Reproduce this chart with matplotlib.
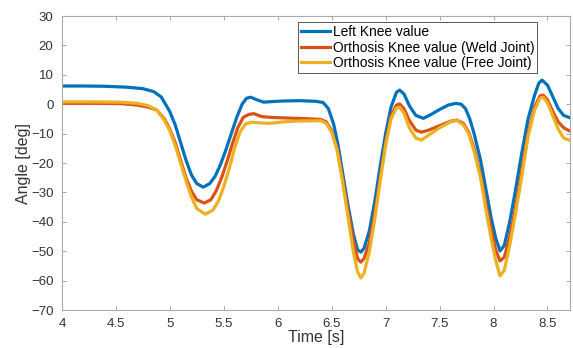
import matplotlib
matplotlib.use('Agg')
import matplotlib.pyplot as plt
import numpy as np

#------------------------------------------------------------------------------
# DATA

# Left knee (blue)
t_left = [4.00, 4.20, 4.40, 4.60, 4.75, 4.85, 4.92, 5.00, 5.05, 5.10, 5.15, 5.20,
          5.25, 5.31, 5.37, 5.42, 5.47, 5.52, 5.57, 5.62, 5.67, 5.71, 5.75, 5.80,
          5.87, 5.95, 6.05, 6.20, 6.35, 6.42, 6.47, 6.52, 6.56, 6.60, 6.65, 6.70,
          6.74, 6.77, 6.80, 6.85, 6.90, 6.95, 7.00, 7.05, 7.10, 7.13, 7.17, 7.22,
          7.28, 7.35, 7.42, 7.50, 7.58, 7.65, 7.70, 7.74, 7.78, 7.82, 7.88, 7.93,
          7.98, 8.02, 8.06, 8.10, 8.15, 8.20, 8.26, 8.32, 8.38, 8.42, 8.45, 8.50,
          8.55, 8.60, 8.65, 8.70]
left_knee = [6.2, 6.2, 6.1, 5.8, 5.3, 4.3, 2.5, -2.5, -7.0, -13.0, -19.0, -24.0,
             -27.0, -28.2, -27.0, -24.5, -20.5, -15.5, -10.0, -4.5, 0.0, 2.0, 2.4, 1.6,
             0.7, 0.9, 1.1, 1.2, 1.0, 0.6, -1.5, -7.0, -14.0, -23.0, -34.0, -44.0,
             -49.5, -50.3, -49.0, -43.0, -33.0, -21.0, -10.0, -1.0, 4.0, 4.8, 3.5, -0.5,
             -3.8, -4.8, -3.5, -1.8, -0.3, 0.3, 0.0, -1.5, -5.0, -10.0, -19.0, -29.0,
             -39.0, -45.5, -49.9, -48.0, -40.0, -30.0, -17.0, -5.0, 3.0, 7.2, 8.2, 6.5,
             2.5, -1.5, -3.8, -4.5]

# Orthosis knee, weld joint (red)
t_weld = [4.00, 4.30, 4.55, 4.70, 4.80, 4.88, 4.95, 5.00, 5.05, 5.10, 5.15, 5.20,
          5.25, 5.32, 5.38, 5.43, 5.48, 5.53, 5.58, 5.63, 5.68, 5.73, 5.78, 5.85,
          5.95, 6.10, 6.25, 6.40, 6.45, 6.50, 6.55, 6.60, 6.65, 6.70, 6.74, 6.77,
          6.80, 6.85, 6.90, 6.95, 7.00, 7.05, 7.10, 7.13, 7.17, 7.22, 7.28, 7.33,
          7.40, 7.50, 7.60, 7.66, 7.72, 7.77, 7.82, 7.88, 7.93, 7.98, 8.02, 8.06,
          8.10, 8.15, 8.20, 8.26, 8.32, 8.38, 8.43, 8.46, 8.50, 8.55, 8.60, 8.65,
          8.70]
weld_joint = [0.3, 0.3, 0.2, -0.3, -1.0, -2.0, -5.0, -8.5, -13.0, -19.0, -25.0, -29.5,
              -32.5, -33.6, -32.5, -29.5, -25.0, -19.5, -13.5, -8.0, -4.5, -3.5, -3.2, -4.2,
              -4.5, -4.7, -4.9, -5.2, -6.0, -9.0, -15.0, -25.0, -36.0, -46.0, -52.5, -53.7,
              -52.5, -47.0, -37.0, -25.0, -13.0, -4.0, -0.3, 0.1, -1.5, -5.5, -8.8, -9.5,
              -8.8, -7.3, -5.8, -5.4, -6.5, -9.5, -15.0, -24.0, -34.0, -43.0, -49.5, -53.3,
              -52.0, -45.0, -36.0, -23.0, -10.0, -1.0, 2.8, 3.1, 1.5, -2.5, -6.0, -8.0,
              -9.0]

# Orthosis knee, free joint (yellow)
t_free = [4.00, 4.30, 4.55, 4.70, 4.80, 4.88, 4.95, 5.00, 5.05, 5.10, 5.15, 5.20,
          5.25, 5.33, 5.40, 5.45, 5.50, 5.55, 5.60, 5.65, 5.70, 5.75, 5.82, 5.92,
          6.05, 6.20, 6.40, 6.45, 6.50, 6.55, 6.60, 6.65, 6.70, 6.74, 6.77, 6.80,
          6.85, 6.90, 6.95, 7.00, 7.05, 7.10, 7.13, 7.17, 7.22, 7.28, 7.33, 7.40,
          7.50, 7.60, 7.66, 7.72, 7.77, 7.82, 7.88, 7.93, 7.98, 8.02, 8.06, 8.10,
          8.15, 8.20, 8.26, 8.32, 8.38, 8.43, 8.46, 8.50, 8.55, 8.60, 8.65, 8.70]
free_joint = [0.8, 0.8, 0.7, 0.3, -0.5, -2.0, -5.5, -9.0, -14.0, -20.0, -26.0, -31.5,
              -35.5, -37.4, -36.0, -33.0, -28.0, -22.0, -15.0, -9.5, -6.8, -6.1, -6.3, -6.5,
              -6.0, -5.7, -5.6, -6.5, -9.5, -15.5, -26.0, -38.0, -50.0, -57.0, -59.1, -57.5,
              -50.0, -39.0, -26.0, -14.0, -5.0, -1.3, -1.0, -3.0, -8.0, -11.5, -12.2, -10.5,
              -8.0, -6.0, -5.5, -7.0, -10.0, -16.0, -25.0, -36.0, -46.0, -53.0, -58.4, -56.5,
              -48.0, -38.0, -25.0, -11.0, -2.0, 2.0, 2.4, 0.5, -4.0, -8.5, -11.5, -12.2]

labels = ['Left Knee value', 'Orthosis Knee value (Weld Joint)',
          'Orthosis Knee value (Free Joint)']

#------------------------------------------------------------------------------
# PLOT THE GRAPH

plt.rcParams['font.family'] = ['Liberation Sans', 'DejaVu Sans']

fig = plt.figure(figsize=(5.73, 3.48), dpi=100)
ax = fig.add_axes([0.108, 0.109, 0.887, 0.845])

ax.plot(t_left, left_knee, color='#0072BD', lw=2.3, label=labels[0])
ax.plot(t_weld, weld_joint, color='#D95319', lw=2.3, label=labels[1])
ax.plot(t_free, free_joint, color='#EDB120', lw=2.3, label=labels[2])

ax.set_xlim(4, 8.71)
ax.set_ylim(-70, 30)
ax.set_xticks(np.arange(4, 8.51, 0.5))
ax.set_xticklabels(['4', '4.5', '5', '5.5', '6', '6.5', '7', '7.5', '8', '8.5'])
ax.set_yticks(np.arange(-70, 31, 10))

ax.tick_params(direction='in', top=True, right=True, length=3, width=0.6,
               labelsize=9.5, colors='#999999', labelcolor='#333333')
ax.tick_params(axis='x', pad=6)
ax.tick_params(axis='y', pad=6)
for s in ax.spines.values():
    s.set_color('#aaaaaa')
    s.set_linewidth(0.8)

ax.set_xlabel('Time [s]', fontsize=11.5, color='#333333', labelpad=0)
ax.set_ylabel('Angle [deg]', fontsize=11.5, color='#333333', labelpad=0)

leg = ax.legend(loc='upper right', bbox_to_anchor=(0.935, 0.978), fontsize=9.9,
                frameon=True, fancybox=False, edgecolor='#555555', framealpha=1,
                handlelength=2.1, handletextpad=0.2, borderpad=0.2, labelspacing=0.1,
                borderaxespad=0.0)
leg.get_frame().set_linewidth(0.7)

fig.savefig('out.png', dpi=100)
